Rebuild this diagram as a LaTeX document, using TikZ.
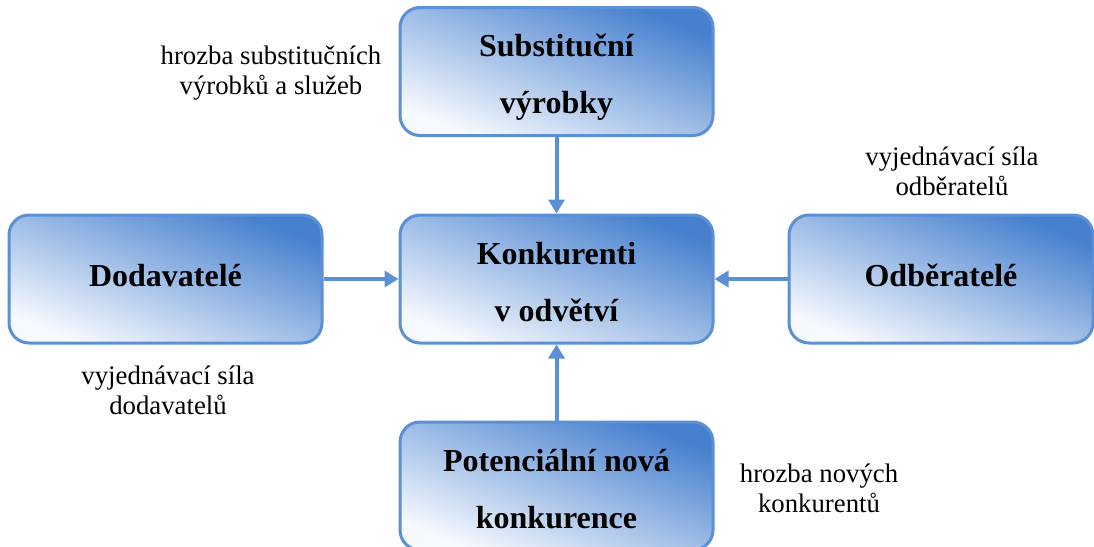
\documentclass[tikz,border=0pt]{standalone}
\usepackage{fontspec}
\setmainfont{Liberation Serif}
\usetikzlibrary{arrows.meta}
\definecolor{bord}{HTML}{5B8FD6}
\definecolor{darkfill}{RGB}{70,128,206}
\definecolor{lightfill}{RGB}{246,249,254}
\begin{document}
\begin{tikzpicture}[x=1pt,y=-1pt,
  box/.style={draw=bord, line width=3pt, rounded corners=20pt,
    top color=darkfill, bottom color=lightfill, shading angle=-22.2,
    minimum width=313pt, minimum height=128pt, align=center,
    font=\fontsize{32}{57}\selectfont\bfseries, inner sep=0pt},
  twobox/.style={box, text height=84pt, text depth=0pt},
  onebox/.style={box, text height=24pt, text depth=10pt},
  lbl/.style={align=center, font=\fontsize{26.75}{30}\selectfont, inner sep=0pt},
  arr/.style={draw=bord, line width=4pt, -{Triangle[width=16pt,length=14pt]}}]
\useasboundingbox (0,0) rectangle (1094,546);
\node[twobox] (sub) at (556.5,71.5) {Substituční\\výrobky};
\node[twobox] (kon) at (556.5,279) {Konkurenti\\v odvětví};
\node[onebox] (dod) at (165.5,279) {Dodavatelé};
\node[onebox, minimum width=304pt] (odb) at (941,279) {Odběratelé};
\node[twobox] (pot) at (556.5,486) {Potenciální nová\\konkurence};
\draw[arr] (sub) -- (kon);
\draw[arr] (dod) -- (kon);
\draw[arr] (odb) -- (kon);
\draw[arr] (pot) -- (kon);
\node[lbl] (l1) at (271,73) {hrozba substitučních\\výrobků a služeb};
\node[lbl] (l2) at (952,171) {vyjednávací síla\\odběratelů};
\node[lbl] (l3) at (168,390) {vyjednávací síla\\dodavatelů};
\node[lbl] (l4) at (819,488) {hrozba nových\\konkurentů};
\end{tikzpicture}
\end{document}
